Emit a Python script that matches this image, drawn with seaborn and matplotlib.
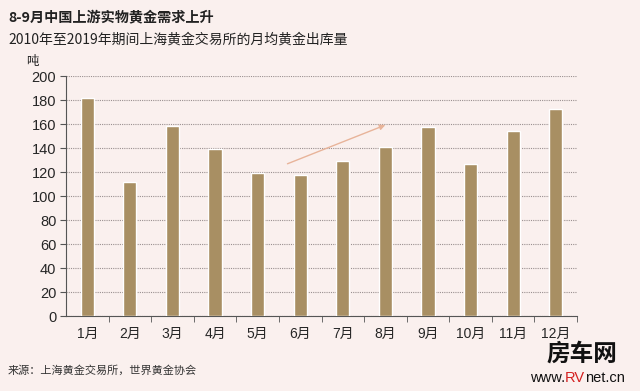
import matplotlib
matplotlib.use("Agg")
import matplotlib.pyplot as plt
import seaborn as sns
import pandas as pd

# données
months = ["1月", "2月", "3月", "4月", "5月", "6月", "7月", "8月", "9月", "10月", "11月", "12月"]
tonnes = [182, 112, 158, 139, 119, 117.5, 129, 141, 157.5, 126.5, 154, 172.5]
trend_x = [4.64, 7.06]
trend_y = [126, 160]

bg = "#FAF0EE"
bar_color = "#A88F63"

sns.set_style("white")
plt.rcParams["font.family"] = ["Liberation Sans", "Noto Sans CJK SC", "DejaVu Sans"]

df = pd.DataFrame({"month": months, "t": tonnes})

fig = plt.figure(figsize=(6.4, 3.91), dpi=100, facecolor=bg)
ax = fig.add_axes([66 / 640, 1 - 316 / 391, (577 - 66) / 640, 240 / 391])
ax.set_facecolor(bg)

sns.barplot(data=df, x="month", y="t", color=bar_color, width=0.31,
            saturation=1, ax=ax, zorder=3)

ax.set_ylim(0, 200)
ax.set_xlim(-0.5, 11.5)
ax.set_yticks(range(0, 201, 20))
ax.yaxis.grid(True, linestyle=(0, (1, 1)), color="#9A9090", linewidth=0.8, zorder=0)
ax.set_xlabel("")
ax.set_ylabel("")

for s in ["top", "right"]:
    ax.spines[s].set_visible(False)
ax.spines["left"].set_color("#555555")
ax.spines["bottom"].set_color("#555555")
ax.spines["left"].set_linewidth(0.8)
ax.spines["bottom"].set_linewidth(0.8)

ax.tick_params(axis="y", length=4, color="#555555", labelsize=10.5, pad=3, left=True)
ax.set_xticks(range(12))
ax.set_xticklabels(months, fontsize=10)
ax.tick_params(axis="x", length=0, pad=8)
# petites marques entre les catégories
ax.set_xticks([i + 0.5 for i in range(12)], minor=True)
ax.tick_params(axis="x", which="minor", length=4, color="#555555", bottom=True)

# flèche de tendance
ax.annotate("", xy=(trend_x[1], trend_y[1]), xytext=(trend_x[0], trend_y[0]),
            arrowprops=dict(arrowstyle="-|>", color="#E8B49A", lw=1,
                            mutation_scale=8), zorder=4)

cjk = ["Noto Sans CJK SC", "DejaVu Sans"]
fig.text(8 / 640, 1 - 18 / 391, "8-9月中国上游实物黄金需求上升", fontsize=10.2,
         fontweight="bold", va="center", ha="left", color="#222222", family=cjk)
fig.text(8 / 640, 1 - 40 / 391, "2010年至2019年期间上海黄金交易所的月均黄金出库量", fontsize=10,
         va="center", ha="left", color="#222222", family=cjk)
fig.text(26 / 640, 1 - 62 / 391, "吨", fontsize=9, style="italic", va="center",
         ha="left", color="#222222", family=cjk)
fig.text(8 / 640, 1 - 370 / 391, "来源：上海黄金交易所，世界黄金协会", fontsize=8,
         va="center", ha="left", color="#333333", family=cjk)

# filigrane
fig.text(582 / 640, 1 - 354 / 391, "房车网", fontsize=17, fontweight="bold",
         va="center", ha="center", color="#111111", family=cjk)
t1 = fig.text(530 / 640, 1 - 378 / 391, "www.", fontsize=10.5, va="center",
              ha="left", color="#111111")
t2 = ax.annotate("RV", xy=(1, 0), xycoords=t1, va="bottom", ha="left",
                 fontsize=10.5, color="#D42020")
ax.annotate("net.cn", xy=(1, 0), xycoords=t2, va="bottom", ha="left",
            fontsize=10.5, color="#111111")

plt.savefig("out.png", dpi=100, facecolor=bg)
plt.close()
